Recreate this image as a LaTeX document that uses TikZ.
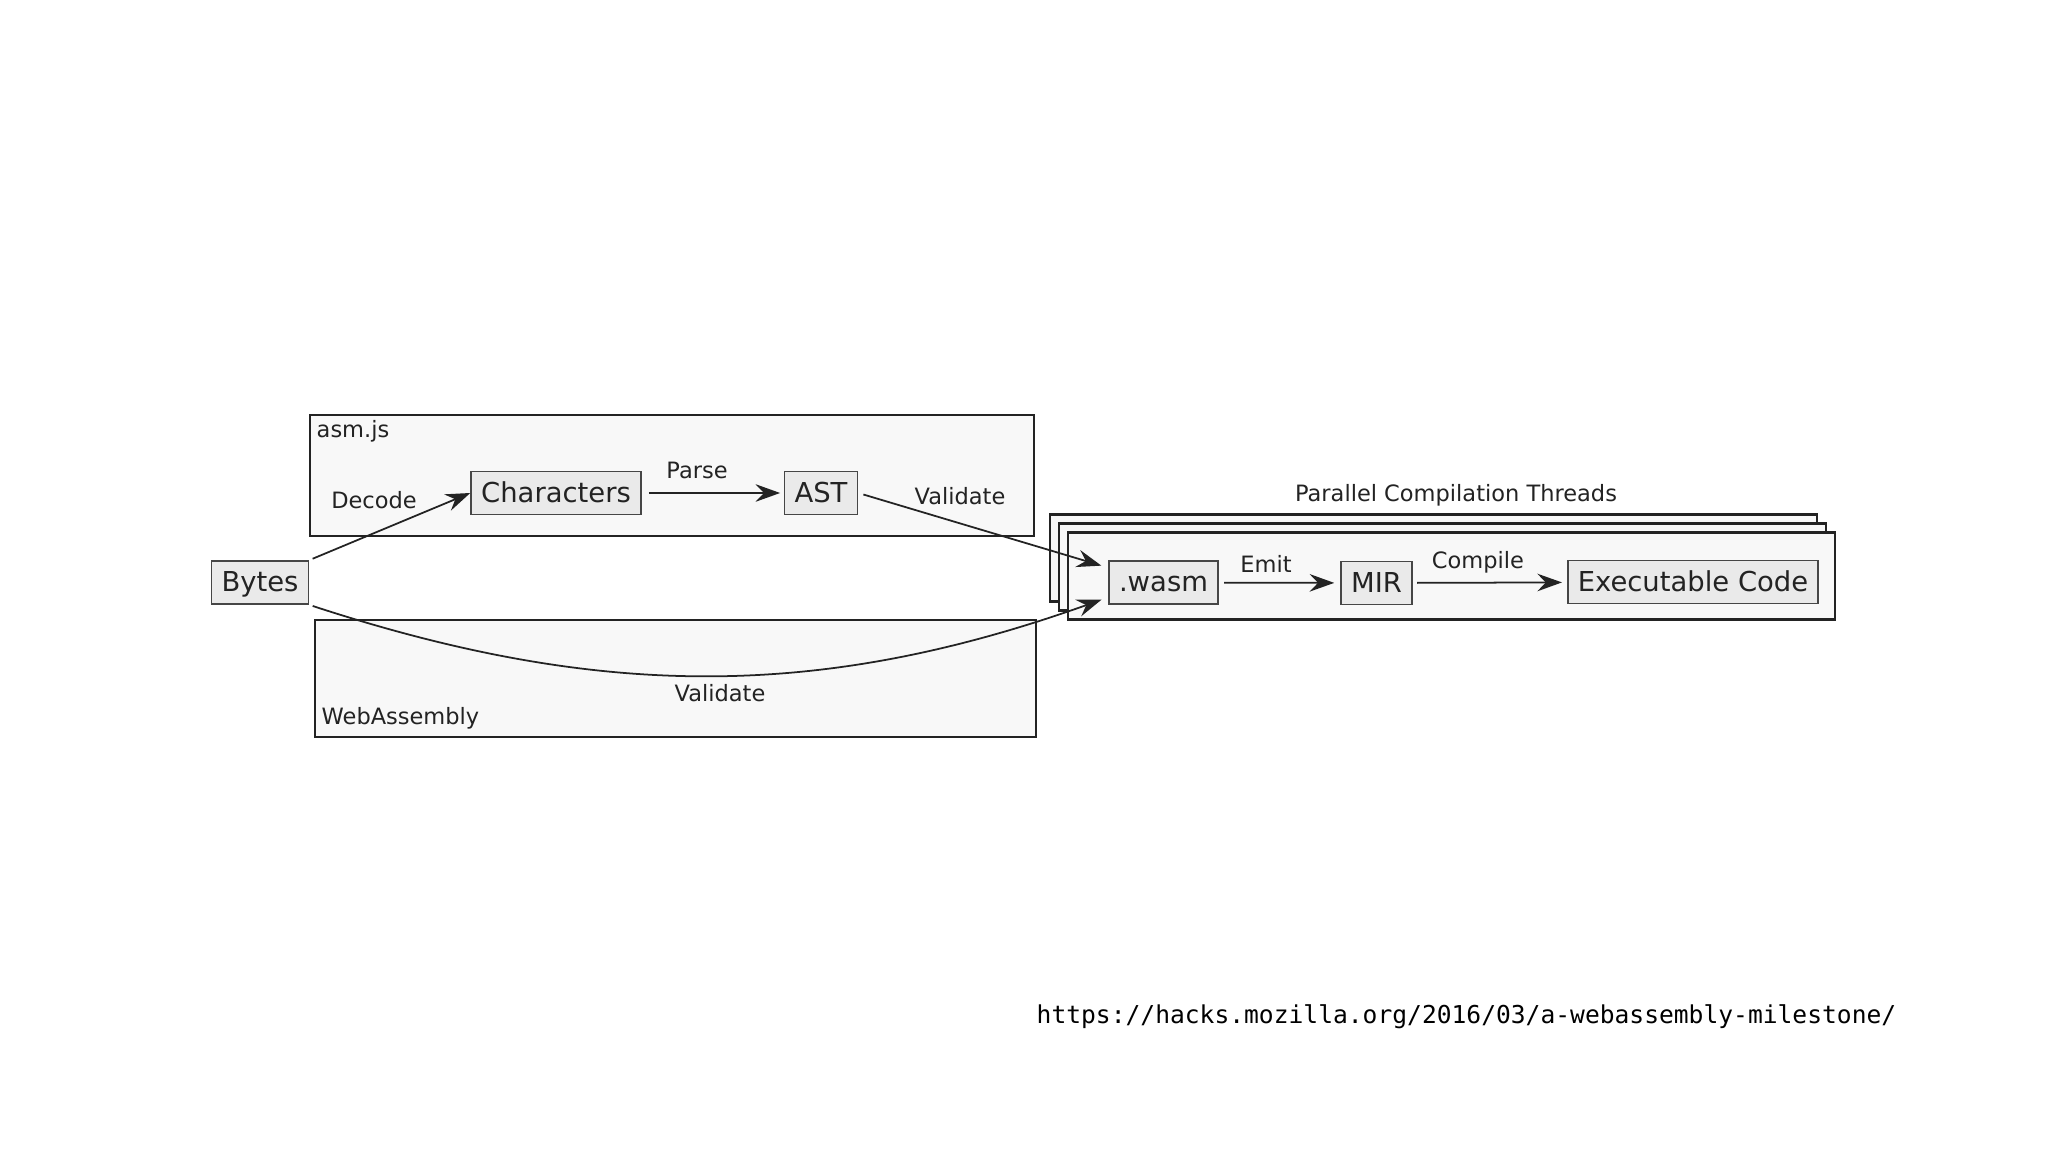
\documentclass[tikz,border=0pt]{standalone}
\usepackage{fontspec}
\setmainfont{DejaVu Sans}
\setmonofont{DejaVu Sans Mono}
\usetikzlibrary{arrows.meta,positioning}
\definecolor{boxFill}{RGB}{234,234,234}
\definecolor{boxLine}{RGB}{70,70,70}
\definecolor{groupFill}{RGB}{248,248,248}
\definecolor{lineDark}{RGB}{35,35,35}

\begin{document}
\begin{tikzpicture}[x=0.01cm,y=-0.01cm,
  stage/.style={draw=boxLine,fill=boxFill,line width=0.5pt,inner xsep=0.1cm,inner ysep=0pt,text=lineDark,
    minimum height=0.43cm,text height=0.76em,text depth=0.24em,font=\fontsize{7.8}{9}\selectfont},
  group/.style={draw=lineDark,fill=groupFill,line width=0.6pt,inner sep=0pt},
  lbl/.style={inner sep=0pt,font=\fontsize{6.4}{8}\selectfont,text=lineDark},
  flow/.style={-{Stealth[length=7pt,width=5pt,inset=2.4pt]},draw=lineDark,line width=0.5pt}]
  \useasboundingbox (0,0) rectangle (2048,1152);
  % groups
  \node[group,minimum width=7.24cm,minimum height=1.21cm] (asmjs) at (672,475.5) {};
  \node[group,minimum width=7.21cm,minimum height=1.17cm] (webasm) at (675.5,678.5) {};
  \foreach \k in {0,1,2}
    \node[group,minimum width=7.67cm,minimum height=0.87cm] (thread\k) at (1433.5+9*\k,558+9*\k) {};
  \node[lbl,anchor=west] (asmjsLbl) at (316,431) {asm.js};
  \node[lbl,anchor=west] (webasmLbl) at (321,718) {WebAssembly};
  \node[lbl] (threadLbl) at (1456,495) {Parallel Compilation Threads};
  % stages
  \node[stage] (bytes) at (260,582.5) {Bytes};
  \node[stage] (chars) at (556,493) {Characters};
  \node[stage] (ast) at (821,493) {AST};
  \node[stage] (wasm) at (1163.5,582.5) {.wasm};
  \node[stage] (mir) at (1376.5,583) {MIR};
  \node[stage] (exec) at (1693,582) {Executable Code};
  % edge labels
  \node[lbl] (decodeLbl) at (374,500) {Decode};
  \node[lbl] (parseLbl) at (697,470) {Parse};
  \node[lbl] (checkAsm) at (960,496) {Validate};
  \node[lbl] (checkWasm) at (720,693) {Validate};
  \node[lbl] (emitLbl) at (1266,564) {Emit};
  \node[lbl] (compileLbl) at (1478,562) {Compile};
  % flows
  \draw[flow,shorten <=1pt] (bytes.north east) -- (chars.west);
  \draw[flow,shorten <=2pt,shorten >=1pt] (chars) -- (ast);
  \draw[flow,shorten <=1.5pt,shorten >=2pt] (ast.east) -- (wasm.165);
  \draw[flow,shorten <=1pt,shorten >=2pt] (bytes.south east) .. controls (600,700) and (820,700) .. (wasm.195);
  \draw[flow,shorten <=1.5pt,shorten >=1.7pt] (wasm) -- (mir);
  \draw[flow,shorten <=1.2pt,shorten >=1.4pt] (mir) -- (exec);
  \node[font=\ttfamily\fontsize{7}{8}\selectfont,anchor=west,inner sep=0pt] (url) at (1036,1017)
    {https://hacks.mozilla.org/2016/03/a-webassembly-milestone/};
\end{tikzpicture}
\end{document}
